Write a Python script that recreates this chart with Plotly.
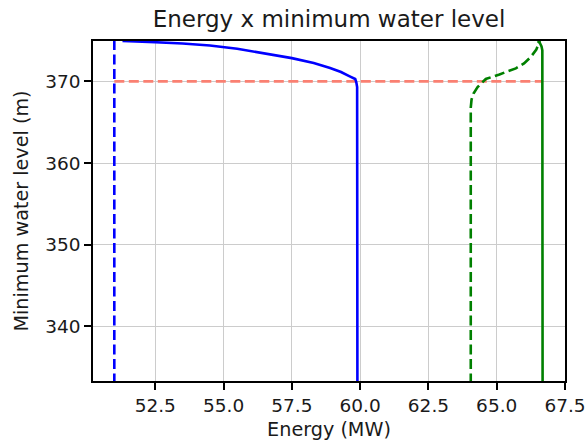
import plotly.graph_objects as go

# Data
energy_max = [59.9, 59.9, 59.89, 59.86, 59.82, 59.6, 59.3, 58.9, 58.3, 57.5, 56.5, 55.5, 54.5, 53.5, 52.5, 51.3]
level_max = [333.0, 368.5, 369.3, 369.9, 370.3, 370.65, 371.15, 371.65, 372.25, 372.85, 373.45, 374.0, 374.4, 374.65, 374.8, 374.95]

energy_min_line = [51.0, 51.0]
level_min_line = [333.0, 375.5]

energy_green = [66.68, 66.68, 66.67, 66.64, 66.58, 66.5]
level_green = [333.0, 373.2, 373.8, 374.3, 374.7, 374.95]

energy_green_dash = [64.05, 64.05, 64.08, 64.15, 64.3, 64.6, 65.1, 65.7, 66.0, 66.25, 66.45, 66.58]
level_green_dash = [333.0, 366.8, 367.8, 368.5, 369.3, 370.3, 370.85, 371.6, 372.2, 373.0, 373.9, 375.0]

energy_ref = [51.0, 66.68]
level_ref = [370.0, 370.0]

x_ticks = [52.5, 55.0, 57.5, 60.0, 62.5, 65.0, 67.5]
y_ticks = [340, 350, 360, 370]

LW = 2.6
DASH = "10px,4.5px"
fig = go.Figure()
fig.add_trace(go.Scatter(x=energy_ref, y=level_ref, mode="lines",
                         line=dict(color="salmon", width=LW, dash=DASH)))
fig.add_trace(go.Scatter(x=energy_max, y=level_max, mode="lines",
                         line=dict(color="blue", width=LW)))
fig.add_trace(go.Scatter(x=energy_min_line, y=level_min_line, mode="lines",
                         line=dict(color="blue", width=LW, dash=DASH)))
fig.add_trace(go.Scatter(x=energy_green, y=level_green, mode="lines",
                         line=dict(color="green", width=LW)))
fig.add_trace(go.Scatter(x=energy_green_dash, y=level_green_dash, mode="lines",
                         line=dict(color="green", width=LW, dash=DASH)))

font = "DejaVu Sans"
TICK = 18.5
LABEL = 19.2
fig.update_layout(
    width=588, height=446,
    margin=dict(l=93, r=23, t=41, b=65, autoexpand=False),
    paper_bgcolor="white", plot_bgcolor="white",
    showlegend=False,
    font=dict(family=font, size=TICK, color="#1a1a1a"),
    title=dict(text="Energy x minimum water level", x=0.5, xanchor="center", xref="paper",
               y=1 - 19 / 446, yanchor="middle",
               font=dict(family=font, size=23, color="#1a1a1a")),
)
fig.update_xaxes(
    range=[50.22, 67.5], tickvals=x_ticks, ticktext=[f"{v:.1f}" for v in x_ticks],
    showgrid=True, gridcolor="#cccccc", gridwidth=1.3,
    showline=True, linecolor="black", linewidth=1.5, mirror=True,
    ticks="outside", ticklen=7, tickwidth=1.5, tickcolor="black",
    zeroline=False, automargin=False,
    title=dict(text="Energy (MW)", standoff=8, font=dict(family=font, size=LABEL)),
)
fig.update_yaxes(
    range=[333.3, 374.95], tickvals=y_ticks, ticktext=[str(v) for v in y_ticks],
    showgrid=True, gridcolor="#cccccc", gridwidth=1.3,
    showline=True, linecolor="black", linewidth=1.5, mirror=True,
    ticks="outside", ticklen=7, tickwidth=1.5, tickcolor="black",
    zeroline=False, automargin=False,
    title=dict(text="Minimum water level (m)", standoff=12, font=dict(family=font, size=LABEL)),
)
fig.write_html("out.html", config={"displayModeBar": False},
               post_script="document.body.style.margin='0px';")
